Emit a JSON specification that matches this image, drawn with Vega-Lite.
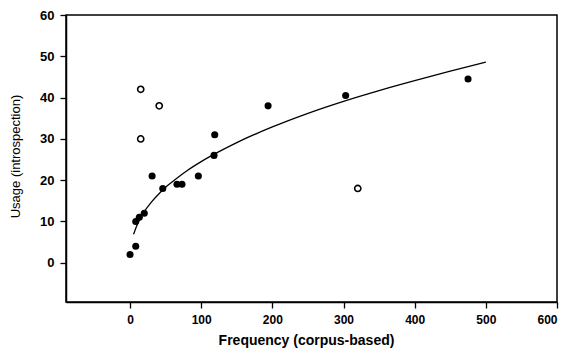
{
  "$schema": "https://vega.github.io/schema/vega-lite/v6.json",
  "autosize": "none",
  "width": 491,
  "height": 287,
  "padding": {"left": 66, "top": 15, "right": 12, "bottom": 48},
  "background": "white",
  "config": {
    "view": {"stroke": "black", "strokeWidth": 1.5},
    "font": "Liberation Sans",
    "axis": {
      "grid": false,
      "domainColor": "black",
      "domainWidth": 1.5,
      "tickColor": "black",
      "tickWidth": 1.3,
      "tickSize": 6,
      "labelColor": "black",
      "labelFont": "Liberation Sans",
      "labelFontWeight": "bold",
      "titleColor": "black",
      "titleFont": "Liberation Sans"
    }
  },
  "datasets": {
    "filled": [
      {"freq": 0, "usage": 2},
      {"freq": 8, "usage": 4},
      {"freq": 8, "usage": 10},
      {"freq": 13, "usage": 11},
      {"freq": 20, "usage": 12},
      {"freq": 31, "usage": 21},
      {"freq": 46, "usage": 18},
      {"freq": 66, "usage": 19},
      {"freq": 73, "usage": 19},
      {"freq": 96, "usage": 21},
      {"freq": 119, "usage": 31},
      {"freq": 118, "usage": 26},
      {"freq": 194, "usage": 38},
      {"freq": 303, "usage": 40.5},
      {"freq": 475, "usage": 44.5}
    ],
    "open": [
      {"freq": 15, "usage": 42},
      {"freq": 41, "usage": 38},
      {"freq": 15, "usage": 30},
      {"freq": 320, "usage": 18}
    ],
    "curve": [
      {"freq": 5, "usage": 6.9},
      {"freq": 10, "usage": 9.2},
      {"freq": 15, "usage": 11.0},
      {"freq": 20, "usage": 12.4},
      {"freq": 30, "usage": 14.7},
      {"freq": 40, "usage": 16.6},
      {"freq": 50, "usage": 18.3},
      {"freq": 60, "usage": 19.7},
      {"freq": 80, "usage": 22.3},
      {"freq": 100, "usage": 24.5},
      {"freq": 125, "usage": 26.9},
      {"freq": 150, "usage": 29.1},
      {"freq": 200, "usage": 32.9},
      {"freq": 250, "usage": 36.2},
      {"freq": 300, "usage": 39.1},
      {"freq": 350, "usage": 41.7},
      {"freq": 400, "usage": 44.1},
      {"freq": 450, "usage": 46.4},
      {"freq": 500, "usage": 48.6}
    ]
  },
  "encoding": {
    "x": {
      "field": "freq",
      "type": "quantitative",
      "scale": {"domain": [-90, 600], "nice": false, "zero": false},
      "axis": {
        "values": [0, 100, 200, 300, 400, 500, 600],
        "title": "Frequency (corpus-based)",
        "labelFontSize": 12,
        "labelPadding": 6,
        "titleFontSize": 14,
        "titleFontWeight": "bold",
        "titleX": 240,
        "titleY": 38,
        "titleBaseline": "middle",
        "titleAnchor": "start",
        "titleAlign": "center"
      }
    },
    "y": {
      "field": "usage",
      "type": "quantitative",
      "scale": {"domain": [-9.5, 60], "nice": false, "zero": false},
      "axis": {
        "values": [0, 10, 20, 30, 40, 50, 60],
        "title": "Usage (introspection)",
        "labelFontSize": 13,
        "labelPadding": 6,
        "titleFontSize": 13,
        "titleFontWeight": "normal",
        "titleX": -51,
        "titleY": 141,
        "titleBaseline": "middle",
        "titleAlign": "center",
        "titleAnchor": "start"
      }
    }
  },
  "layer": [
    {
      "data": {"name": "curve"},
      "mark": {"type": "line", "color": "black", "strokeWidth": 1.3, "interpolate": "monotone"}
    },
    {
      "data": {"name": "filled"},
      "mark": {"type": "point", "shape": "circle", "filled": true, "color": "black", "size": 50, "opacity": 1}
    },
    {
      "data": {"name": "open"},
      "mark": {"type": "point", "shape": "circle", "filled": false, "color": "black", "strokeWidth": 1.6, "size": 38, "opacity": 1}
    }
  ]
}
